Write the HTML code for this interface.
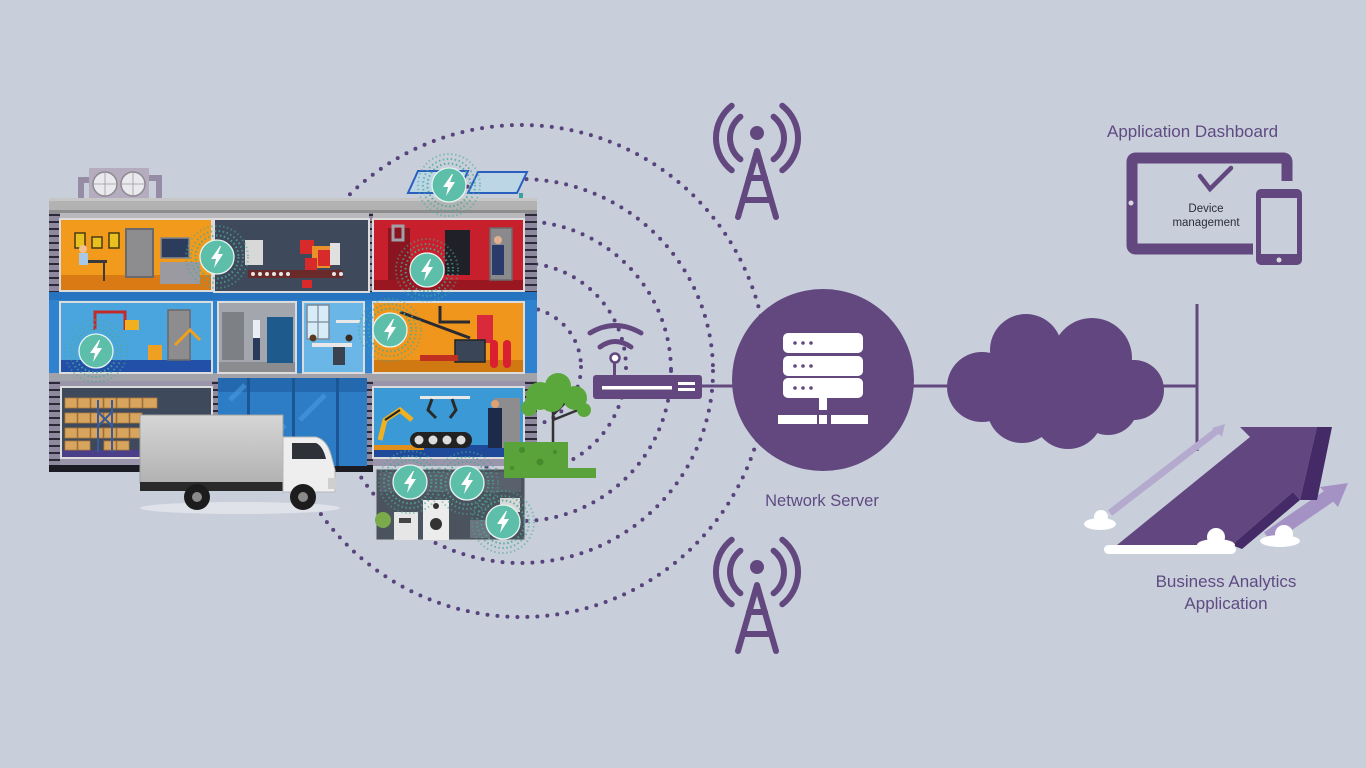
<!DOCTYPE html>
<html><head><meta charset="utf-8"><style>
html,body{margin:0;padding:0;background:#c8cfdb;}
svg{display:block}
text{font-family:"Liberation Sans",sans-serif}
</style></head><body>
<svg width="1366" height="768" viewBox="0 0 1366 768" xmlns="http://www.w3.org/2000/svg">
<defs>
 <pattern id="st" width="12" height="7" patternUnits="userSpaceOnUse"><rect width="12" height="7" fill="#8f89a0"/><rect y="4" width="12" height="2" fill="#2b2838"/></pattern>
 <linearGradient id="tg" x1="0" y1="0" x2="0" y2="1"><stop offset="0" stop-color="#d6d6d6"/><stop offset="1" stop-color="#b2b2b2"/></linearGradient>
 <g id="bolt">
  <circle r="31" fill="none" stroke="#4aa898" stroke-width="2" stroke-dasharray="1.5 2.5" opacity="0.55"/>
  <circle r="26" fill="none" stroke="#4aa898" stroke-width="2" stroke-dasharray="1.5 2.5" opacity="0.75"/>
  <circle r="21.5" fill="none" stroke="#4aa898" stroke-width="2" stroke-dasharray="1.5 2.5" opacity="0.9"/>
  <circle r="17" fill="#5dbfa9" stroke="#e6f5f1" stroke-width="1.3"/>
  <path d="M3,-11 L-6,2 L-1,2 L-3,11 L6,-3 L1,-3 L4,-11 Z" fill="#fff"/>
 </g>
 <g id="tower">
  <circle cx="0" cy="0" r="7" fill="#62487f"/>
  <g fill="none" stroke="#62487f" stroke-width="6" stroke-linecap="round" stroke-linejoin="round">
   <path d="M-16.6,-16.3 A27,27 0 0 0 -16.6,26.3"/>
   <path d="M16.6,-16.3 A27,27 0 0 1 16.6,26.3"/>
   <path d="M-25.3,-27.3 A41,41 0 0 0 -25.3,37.3"/>
   <path d="M25.3,-27.3 A41,41 0 0 1 25.3,37.3"/>
   <path d="M-19,84 L0,18 L19,84"/>
   <path d="M-8,45 H8"/>
   <path d="M-14,67 H14"/>
  </g>
 </g>
</defs>
<rect width="1366" height="768" fill="#c8cfdb"/>

<!-- dotted rings -->
<g fill="none" stroke="#58437c" stroke-width="4" stroke-linecap="round" stroke-dasharray="0 10">
 <circle cx="521" cy="371" r="246"/>
 <circle cx="521" cy="371" r="192"/>
 <circle cx="521" cy="371" r="150"/>
 <circle cx="521" cy="368" r="105"/>
 <circle cx="521" cy="367" r="60"/>
</g>

<!-- towers -->
<use href="#tower" x="757" y="133"/>
<use href="#tower" x="757" y="567"/>

<!-- roof unit -->
<path d="M81,200 V180 H92" fill="none" stroke="#978ca6" stroke-width="6"/>
<path d="M146,178 H159 V200" fill="none" stroke="#978ca6" stroke-width="6"/>
<rect x="89" y="168" width="60" height="31" fill="#b5adbf"/>
<circle cx="105" cy="184" r="12" fill="#e9e9ee" stroke="#8a8a90" stroke-width="1.5"/>
<circle cx="133" cy="184" r="12" fill="#e9e9ee" stroke="#8a8a90" stroke-width="1.5"/>
<path d="M105,172 V196 M93,184 H117 M133,172 V196 M121,184 H145" stroke="#9a9aa0" stroke-width="0.8"/>

<!-- solar panels -->
<polygon points="418,171 468,171 458,193 408,193" fill="#bcd6e6" stroke="#2a5fc0" stroke-width="2"/>
<polygon points="478,172 527,172 517,193 468,193" fill="#bcd6e6" stroke="#2a5fc0" stroke-width="2"/>
<rect x="519" y="193" width="4" height="6" fill="#3aa0a0"/>

<!-- building body -->
<rect x="49" y="198" width="488" height="15" fill="#b2b2b2"/>
<rect x="49" y="198" width="488" height="3" fill="#c6c6c6"/>
<rect x="49" y="210" width="488" height="3" fill="#8d8d8d"/>
<rect x="49" y="213" width="488" height="79" fill="#b9b9bd"/>
<rect x="49" y="213" width="11" height="79" fill="url(#st)"/>
<rect x="525" y="213" width="12" height="79" fill="url(#st)"/>
<rect x="369" y="213" width="4" height="79" fill="url(#st)"/>
<rect x="49" y="292" width="488" height="81" fill="#2f82cf"/>
<rect x="49" y="292" width="488" height="8" fill="#2674c0"/>
<rect x="49" y="373" width="488" height="8" fill="#a2a3aa"/>
<rect x="49" y="381" width="488" height="85" fill="#9a95aa"/>
<rect x="49" y="381" width="11" height="85" fill="url(#st)"/>
<rect x="525" y="381" width="12" height="85" fill="url(#st)"/>
<rect x="212" y="381" width="8" height="85" fill="url(#st)"/>
<rect x="367" y="381" width="6" height="85" fill="url(#st)"/>
<rect x="49" y="465" width="324" height="7" fill="#1b1b24"/>

<!-- Room A orange -->
<rect x="60" y="219" width="152" height="72" fill="#f29a1c" stroke="#dcdcdc" stroke-width="2"/>
<rect x="61" y="275" width="150" height="15" fill="#d97a14"/>
<rect x="126" y="229" width="27" height="48" fill="#8d8d8f" stroke="#6a6a6c" stroke-width="2"/>
<rect x="75" y="233" width="10" height="15" fill="#e8c020" stroke="#4a3a10" stroke-width="1.5"/>
<rect x="92" y="237" width="10" height="11" fill="#e8c020" stroke="#4a3a10" stroke-width="1.5"/>
<rect x="109" y="233" width="10" height="15" fill="#e8c020" stroke="#4a3a10" stroke-width="1.5"/>
<rect x="82" y="260" width="25" height="3" fill="#3a3a3a"/>
<rect x="103" y="263" width="2" height="18" fill="#3a3a3a"/>
<circle cx="83" cy="249" r="4" fill="#f0c090"/>
<rect x="79" y="253" width="9" height="12" fill="#a8c8e8"/>
<rect x="161" y="238" width="28" height="20" fill="#2c3c5c" stroke="#888" stroke-width="1.5"/>
<rect x="160" y="262" width="40" height="22" fill="#9a9aa0"/>
<!-- Room B dark -->
<rect x="214" y="219" width="155" height="73" fill="#3e4a5c" stroke="#dcdcdc" stroke-width="2"/>
<rect x="245" y="240" width="18" height="25" fill="#d8d8d8"/>
<rect x="248" y="270" width="95" height="8" fill="#6a2a2a"/>
<g fill="#e8e8e8"><circle cx="253" cy="274" r="2"/><circle cx="260" cy="274" r="2"/><circle cx="267" cy="274" r="2"/><circle cx="274" cy="274" r="2"/><circle cx="281" cy="274" r="2"/><circle cx="288" cy="274" r="2"/><circle cx="334" cy="274" r="2"/><circle cx="341" cy="274" r="2"/></g>
<rect x="300" y="240" width="14" height="14" fill="#d82a2a"/>
<rect x="312" y="246" width="18" height="22" fill="#e8902a"/>
<rect x="318" y="250" width="14" height="16" fill="#d82a2a"/>
<rect x="305" y="258" width="12" height="12" fill="#d82a2a"/>
<rect x="330" y="243" width="10" height="22" fill="#e0e0e0"/>
<rect x="302" y="280" width="10" height="8" fill="#d82a2a"/>
<!-- Room C red -->
<rect x="373" y="219" width="151" height="72" fill="#c71f2b" stroke="#dcdcdc" stroke-width="2"/>
<rect x="374" y="280" width="149" height="10" fill="#9a1620"/>
<rect x="388" y="228" width="22" height="52" fill="#8a1520"/>
<rect x="393" y="226" width="10" height="14" fill="none" stroke="#a0a0a8" stroke-width="3"/>
<rect x="445" y="230" width="25" height="45" fill="#202028"/>
<rect x="490" y="228" width="22" height="52" fill="#8a8a8c" stroke="#6a6a6c" stroke-width="1.5"/>
<rect x="492" y="245" width="12" height="30" fill="#2a3a6a"/>
<circle cx="498" cy="240" r="4" fill="#e0b090"/>
<!-- Room D blue -->
<rect x="60" y="302" width="152" height="71" fill="#4aa5df" stroke="#dcdcdc" stroke-width="2"/>
<rect x="61" y="360" width="150" height="12" fill="#2250a8"/>
<path d="M95,330 V312 H125 V330" fill="none" stroke="#c02a2a" stroke-width="3"/>
<rect x="125" y="320" width="14" height="10" fill="#f0b020"/>
<rect x="168" y="310" width="22" height="50" fill="#8d8d8f" stroke="#6a6a6c" stroke-width="1.5"/>
<rect x="148" y="345" width="14" height="15" fill="#f0a020"/>
<path d="M175,345 L190,330 L200,340" fill="none" stroke="#f0a020" stroke-width="3"/>
<!-- Room E gray -->
<rect x="218" y="302" width="78" height="71" fill="#a3a7ad" stroke="#dcdcdc" stroke-width="2"/>
<rect x="219" y="362" width="76" height="10" fill="#8a8c90"/>
<rect x="222" y="312" width="22" height="48" fill="#7d8085"/>
<rect x="267" y="317" width="26" height="46" fill="#1f5a8c"/>
<rect x="253" y="320" width="7" height="18" fill="#e8eef4"/>
<rect x="253" y="338" width="7" height="22" fill="#2a3a5a"/>
<!-- Room F office -->
<rect x="303" y="302" width="61" height="71" fill="#6ab6e6" stroke="#dcdcdc" stroke-width="2"/>
<rect x="307" y="305" width="22" height="34" fill="#d8ecf8" stroke="#7a8a9a" stroke-width="1.5"/>
<path d="M318,305 V339 M307,322 H329" stroke="#7a8a9a" stroke-width="1.2"/>
<rect x="312" y="343" width="40" height="4" fill="#e8e8e8"/>
<rect x="333" y="347" width="12" height="18" fill="#3a4250"/>
<circle cx="313" cy="338" r="3.5" fill="#5a3a20"/>
<circle cx="349" cy="338" r="3.5" fill="#3a2a20"/>
<rect x="336" y="320" width="24" height="3" fill="#e8e8e8"/>
<!-- Room G orange -->
<rect x="373" y="302" width="151" height="71" fill="#f0961c" stroke="#dcdcdc" stroke-width="2"/>
<rect x="374" y="360" width="149" height="12" fill="#d07812"/>
<path d="M400,312 L470,338 M440,306 V322 H470" fill="none" stroke="#2a2a30" stroke-width="3"/>
<rect x="477" y="315" width="16" height="28" fill="#d82a3a"/>
<rect x="455" y="340" width="30" height="22" fill="#3a4658" stroke="#222" stroke-width="1.5"/>
<rect x="490" y="340" width="8" height="28" rx="4" fill="#d82030"/>
<rect x="503" y="340" width="8" height="28" rx="4" fill="#d82030"/>
<rect x="420" y="355" width="38" height="6" fill="#c03020"/>
<!-- Room H warehouse -->
<rect x="61" y="387" width="151" height="71" fill="#3e4a5c" stroke="#dcdcdc" stroke-width="2"/>
<rect x="62" y="450" width="149" height="7" fill="#4a3f88"/>
<g fill="#d8a55e" stroke="#b07a3a" stroke-width="0.8">
 <rect x="65" y="398" width="12" height="10"/><rect x="78" y="398" width="12" height="10"/><rect x="91" y="398" width="12" height="10"/><rect x="104" y="398" width="12" height="10"/><rect x="117" y="398" width="12" height="10"/><rect x="130" y="398" width="12" height="10"/><rect x="143" y="398" width="14" height="10"/>
 <rect x="65" y="413" width="12" height="10"/><rect x="78" y="413" width="12" height="10"/><rect x="91" y="413" width="12" height="10"/><rect x="104" y="413" width="12" height="10"/><rect x="117" y="413" width="12" height="10"/><rect x="130" y="413" width="12" height="10"/>
 <rect x="65" y="428" width="12" height="10"/><rect x="78" y="428" width="12" height="10"/><rect x="91" y="428" width="12" height="10"/><rect x="104" y="428" width="12" height="10"/><rect x="117" y="428" width="12" height="10"/><rect x="130" y="428" width="12" height="10"/>
 <rect x="65" y="441" width="12" height="9"/><rect x="78" y="441" width="12" height="9"/><rect x="104" y="441" width="12" height="9"/><rect x="117" y="441" width="12" height="9"/>
</g>
<path d="M98,400 V452 M112,400 V452 M98,412 L112,426 M112,412 L98,426" stroke="#3a5a9a" stroke-width="2" fill="none"/>
<!-- Glass door -->
<rect x="218" y="378" width="149" height="88" fill="#2c7cc6"/>
<rect x="218" y="378" width="149" height="14" fill="#2468b0"/>
<path d="M230,400 L245,385 M300,420 L325,395 M255,455 L285,425" stroke="#4a9ae0" stroke-width="5" opacity="0.6"/>
<rect x="247" y="378" width="3" height="88" fill="#1b5694"/>
<rect x="292" y="378" width="3" height="88" fill="#1b5694"/>
<rect x="336" y="378" width="3" height="88" fill="#1b5694"/>
<!-- Room I -->
<rect x="373" y="387" width="151" height="71" fill="#3b9ad6" stroke="#dcdcdc" stroke-width="2"/>
<rect x="374" y="445" width="149" height="12" fill="#1f4a9a"/>
<rect x="374" y="445" width="50" height="5" fill="#e0901a"/>
<path d="M380,440 L385,420 L400,410 L412,420" fill="none" stroke="#f0b020" stroke-width="5"/>
<path d="M385,420 L400,410" stroke="#222" stroke-width="2"/>
<rect x="420" y="396" width="50" height="3" fill="#e8e8e8"/>
<path d="M432,399 L428,410 L436,418 M452,399 L456,410 L450,418" fill="none" stroke="#2a2a2a" stroke-width="3"/>
<rect x="410" y="432" width="62" height="16" rx="8" fill="#222"/>
<g fill="#ddd"><circle cx="419" cy="440" r="4.5"/><circle cx="433" cy="440" r="4.5"/><circle cx="447" cy="440" r="4.5"/><circle cx="461" cy="440" r="4.5"/></g>
<rect x="494" y="398" width="26" height="50" fill="#8d8d8f"/>
<rect x="488" y="408" width="14" height="40" fill="#1e2a4a"/>
<circle cx="495" cy="404" r="4" fill="#e0a070"/>

<!-- Bottom box -->
<rect x="376" y="469" width="149" height="71" fill="#4b535e" stroke="#c8c8cc" stroke-width="1"/>
<rect x="380" y="472" width="141" height="20" fill="#58616c"/>
<circle cx="383" cy="520" r="8" fill="#7aaa4a"/>
<rect x="394" y="512" width="24" height="28" fill="#e6e6e6"/>
<rect x="399" y="518" width="12" height="5" fill="#444"/>
<rect x="423" y="500" width="26" height="40" fill="#ececec"/>
<circle cx="436" cy="524" r="6" fill="#333"/>
<circle cx="436" cy="506" r="3" fill="#333"/>
<rect x="470" y="520" width="20" height="18" fill="#6a737e"/>
<rect x="500" y="498" width="20" height="14" fill="#d8d8d8"/>

<!-- truck -->
<ellipse cx="240" cy="508" rx="100" ry="6" fill="#dfe2e8"/>
<rect x="140" y="415" width="143" height="68" fill="url(#tg)" stroke="#a0a0a0" stroke-width="1"/>
<rect x="140" y="482" width="195" height="9" fill="#2a2a2a"/>
<path d="M283,437 H316 Q327,440 331,455 L335,470 V492 H283 Z" fill="#eeeeee" stroke="#b8b8b8" stroke-width="1"/>
<path d="M292,443 H316 Q323,446 326,459 H292 Z" fill="#2e3238"/>
<rect x="328" y="478" width="8" height="11" fill="#cfcfcf"/>
<circle cx="197" cy="497" r="13" fill="#1c1c1c"/><circle cx="197" cy="497" r="5" fill="#8a8a8a"/>
<circle cx="303" cy="497" r="13" fill="#1c1c1c"/><circle cx="303" cy="497" r="5" fill="#8a8a8a"/>

<!-- tree -->
<path d="M553,442 V412 L540,398 M553,415 L568,400 M553,420 L578,410" fill="none" stroke="#333" stroke-width="2.5"/>
<g fill="#5aa83c">
 <circle cx="540" cy="396" r="14"/><circle cx="558" cy="386" r="13"/><circle cx="575" cy="398" r="12"/><circle cx="529" cy="408" r="8"/><circle cx="584" cy="410" r="7"/><circle cx="552" cy="400" r="12"/>
</g>
<rect x="504" y="442" width="64" height="36" fill="#5aa33a"/>
<rect x="566" y="468" width="30" height="10" fill="#5aa33a"/>
<g fill="#478a2c"><circle cx="522" cy="450" r="3"/><circle cx="540" cy="462" r="3.5"/><circle cx="512" cy="468" r="2"/><circle cx="555" cy="452" r="2"/></g>

<!-- lightning icons -->
<use href="#bolt" x="449" y="185"/>
<use href="#bolt" x="217" y="257"/>
<use href="#bolt" x="427" y="270"/>
<use href="#bolt" x="96" y="351"/>
<use href="#bolt" x="390" y="330"/>
<use href="#bolt" x="410" y="482"/>
<use href="#bolt" x="467" y="483"/>
<use href="#bolt" x="503" y="522"/>

<!-- router -->
<g fill="none" stroke="#62487f" stroke-width="5" stroke-linecap="round">
 <path d="M590,333 Q615,318 641,333"/>
 <path d="M600,347 Q615,336 631,347"/>
</g>
<rect x="613" y="361" width="3" height="14" fill="#62487f"/>
<circle cx="615" cy="358" r="4.5" fill="#fff" stroke="#62487f" stroke-width="2.5"/>
<rect x="593" y="375" width="109" height="24" rx="3" fill="#62487f"/>
<rect x="602" y="386" width="70" height="3.5" fill="#fff"/>
<rect x="678" y="382" width="17" height="3" fill="#fff"/>
<rect x="678" y="388" width="17" height="3" fill="#fff"/>

<!-- connectors -->
<g stroke="#62487f" stroke-width="3">
 <line x1="701" y1="386" x2="736" y2="386"/>
 <line x1="910" y1="386" x2="952" y2="386"/>
 <line x1="1158" y1="386" x2="1197" y2="386"/>
 <line x1="1197" y1="304" x2="1197" y2="451"/>
</g>

<!-- server -->
<circle cx="823" cy="380" r="91" fill="#62487f"/>
<g fill="#fff">
 <rect x="783" y="333" width="80" height="20" rx="5"/>
 <rect x="783" y="356" width="80" height="20" rx="5"/>
 <rect x="783" y="378" width="80" height="20" rx="5"/>
 <rect x="819" y="398" width="8" height="12"/>
 <rect x="778" y="415" width="39" height="9"/>
 <rect x="819" y="415" width="8" height="9"/>
 <rect x="831" y="415" width="37" height="9"/>
</g>
<g fill="#62487f">
 <circle cx="795" cy="343" r="1.8"/><circle cx="803" cy="343" r="1.8"/><circle cx="811" cy="343" r="1.8"/>
 <circle cx="795" cy="366" r="1.8"/><circle cx="803" cy="366" r="1.8"/><circle cx="811" cy="366" r="1.8"/>
 <circle cx="795" cy="388" r="1.8"/><circle cx="803" cy="388" r="1.8"/><circle cx="811" cy="388" r="1.8"/>
</g>
<text x="822" y="506" font-size="16.5" fill="#5f4a82" text-anchor="middle">Network Server</text>

<!-- cloud -->
<g fill="#62467f">
 <circle cx="982" cy="387" r="35"/>
 <circle cx="1026" cy="350" r="36"/>
 <circle cx="1092" cy="358" r="40"/>
 <circle cx="1134" cy="390" r="30"/>
 <circle cx="1022" cy="408" r="35"/>
 <circle cx="1068" cy="414" r="35"/>
 <circle cx="1108" cy="405" r="30"/>
 <rect x="985" y="360" width="150" height="60"/>
</g>

<!-- Application dashboard -->
<text x="1107" y="137" font-size="17" fill="#5f4a82">Application Dashboard</text>
<path d="M1287,181 V162 Q1287,158 1283,158 H1136 Q1132,158 1132,162 V245 Q1132,249 1136,249 H1253" fill="none" stroke="#62487f" stroke-width="11" stroke-linejoin="round"/>
<circle cx="1131" cy="203" r="2.5" fill="#d8d8e0"/>
<rect x="1256" y="189" width="46" height="76" rx="5" fill="#62487f"/>
<rect x="1261" y="198" width="36" height="56" fill="#c8cfdb"/>
<circle cx="1279" cy="260" r="2.5" fill="#d8d8e0"/>
<path d="M1200,176 L1210,189 L1231,168" fill="none" stroke="#62487f" stroke-width="4.5" stroke-linecap="round" stroke-linejoin="miter"/>
<text x="1206" y="212" font-size="11.5" fill="#2c2c36" text-anchor="middle">Device</text>
<text x="1206" y="226" font-size="11.5" fill="#2c2c36" text-anchor="middle">management</text>

<!-- analytics arrow -->
<line x1="1110" y1="513" x2="1218" y2="430" stroke="#b4aacd" stroke-width="7"/>
<polygon points="1212,428 1225,424 1222,437" fill="#b4aacd"/>
<line x1="1268" y1="538" x2="1332" y2="494" stroke="#a592c4" stroke-width="14"/>
<polygon points="1320,487 1348,483 1338,507" fill="#a592c4"/>
<polygon points="1117,545 1250,437 1240,427 1317,427 1300,500 1293,492 1232,545" fill="#62467f"/>
<polygon points="1317,427 1332,427 1317,500 1300,500" fill="#442a66"/>
<polygon points="1232,545 1293,492 1300,500 1242,549" fill="#442a66"/>
<rect x="1104" y="545" width="132" height="9" rx="4.5" fill="#fff"/>
<g fill="#fff">
 <ellipse cx="1100" cy="524" rx="16" ry="6"/><circle cx="1101" cy="517" r="7"/>
 <ellipse cx="1216" cy="545" rx="19" ry="6"/><circle cx="1216" cy="537" r="9"/>
 <ellipse cx="1280" cy="541" rx="20" ry="6"/><circle cx="1284" cy="534" r="9"/>
</g>
<text x="1226" y="587" font-size="17" fill="#5f4a82" text-anchor="middle">Business Analytics</text>
<text x="1226" y="609" font-size="17" fill="#5f4a82" text-anchor="middle">Application</text>
</svg>
</body></html>
